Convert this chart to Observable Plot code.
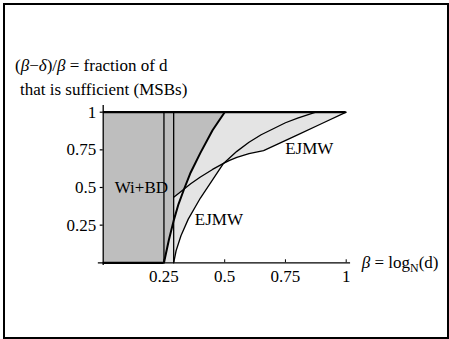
<!DOCTYPE html>
<html>
<head>
<meta charset="utf-8">
<script src="https://cdn.jsdelivr.net/npm/d3@7"></script>
<script src="https://cdn.jsdelivr.net/npm/@observablehq/plot@0.6"></script>
<style>
  html, body { margin: 0; padding: 0; background: #fff; }
  #wrap { position: relative; width: 449px; height: 339px; overflow: hidden; }
  #wrap svg { position: absolute; left: 0; top: 0; }
  #wrap svg text { font-family: "Liberation Serif", "Times New Roman", serif; }
  #frame { position: absolute; left: 3px; top: 3px; width: 446px; height: 336px;
           border: 2px solid #000; box-sizing: border-box; pointer-events: none; }
</style>
</head>
<body>
<div id="wrap"><div id="frame"></div></div>
<script>
// ---- data ----
const xTicks = [0.25, 0.5, 0.75, 1];
const xTickLabels = ["0.25", "0.5", "0.75", "1"];
const yTicks = [0.25, 0.5, 0.75, 1];
const yTickLabels = ["0.25", "0.5", "0.75", "1"];

// vertical boundaries
const bounds = [0.25, 0.29];

// thick curve (Wi+BD boundary)
const thickX = [0.25, 0.27, 0.29, 0.31, 0.333, 0.36, 0.40, 0.45, 0.5];
const thickY = [0, 0.15, 0.28, 0.39, 0.49, 0.60, 0.73, 0.88, 1];

// lower EJMW curve
const lowerX = [0.29, 0.30, 0.32, 0.35, 0.40, 0.45, 0.495, 0.55, 0.60, 0.65, 0.70, 0.75, 0.80, 0.875];
const lowerY = [0, 0.08, 0.18, 0.29, 0.43, 0.55, 0.66, 0.74, 0.80, 0.85, 0.89, 0.93, 0.96, 1];

// upper (kinked) EJMW curve
const kinkX = [0.29, 0.31, 0.333, 0.36, 0.40, 0.45, 0.495, 0.52, 0.55, 0.60, 0.66, 0.72, 0.80, 0.90, 1];
const kinkY = [0.435, 0.46, 0.49, 0.525, 0.57, 0.62, 0.66, 0.68, 0.70, 0.725, 0.745, 0.79, 0.85, 0.925, 1];

// region labels
const labelText = ["Wi+BD", "EJMW", "EJMW"];
const labelX = [0.157, 0.476, 0.848];
const labelY = [0.5, 0.29, 0.757];

// ---- tables built from the arrays ----
const pts = (xs, ys) => xs.map((x, i) => ({x, y: ys[i]}));
const thick = pts(thickX, thickY);
const lower = pts(lowerX, lowerY);
const kink = pts(kinkX, kinkY);
const iCross = lowerX.indexOf(0.495);
const kCross = kinkX.indexOf(0.495);
const kMeet = kinkX.indexOf(0.333);
const tMeet = thickX.indexOf(0.333);
const tStart = thickX.indexOf(0.29);

const darkPoly = [{x: 0, y: 0}, ...thick, {x: 0, y: 1}];
const lightPoly = [{x: bounds[0], y: 0}, ...lower.slice(0, iCross + 1), ...kink.slice(kCross), ...thick.slice().reverse()];
const triPoly = [...kink.slice(0, kMeet + 1), ...thick.slice(tStart, tMeet + 1).reverse()];
const labels = labelText.map((t, i) => ({t, x: labelX[i], y: labelY[i]}));

const dark = "#bebebe", light = "#e4e4e4";
const lw = 1.3;
const font = "Liberation Serif, Times New Roman, serif";

const plot = Plot.plot({
  width: 449, height: 339,
  marginLeft: 102.7, marginRight: 103.3, marginTop: 111.7, marginBottom: 76.7,
  x: {domain: [0, 1]},
  y: {domain: [0, 1]},
  style: {fontFamily: font, fontSize: "17px", background: "transparent", color: "#000", overflow: "visible"},
  marks: [
    Plot.line(darkPoly, {x: "x", y: "y", fill: dark, stroke: "none"}),
    Plot.line(lightPoly, {x: "x", y: "y", fill: light, stroke: "none"}),
    Plot.line(triPoly, {x: "x", y: "y", fill: light, stroke: "none"}),
    Plot.text(labels, {x: "x", y: "y", text: "t", fill: "#000", fontSize: 17, fontFamily: font}),
    Plot.ruleX(bounds, {y1: 0, y2: 1, stroke: "#000", strokeWidth: lw}),
    Plot.line(lower, {x: "x", y: "y", stroke: "#000", strokeWidth: lw}),
    Plot.line(kink, {x: "x", y: "y", stroke: "#000", strokeWidth: lw}),
    Plot.line(thick, {x: "x", y: "y", stroke: "#000", strokeWidth: 2}),
    Plot.ruleY([1], {x1: 0, x2: 1, stroke: "#000", strokeWidth: 2.2}),
    Plot.ruleY([0], {x1: 0, x2: bounds[0], stroke: "#000", strokeWidth: 2.2}),
    Plot.ruleY([0], {x1: -0.02, x2: 1.018, stroke: "#000", strokeWidth: lw}),
    Plot.ruleX([0], {y1: -0.018, y2: 1.045, stroke: "#000", strokeWidth: lw}),
    Plot.ruleX(xTicks, {y1: 0, y2: 0.02, stroke: "#000", strokeWidth: 1}),
    Plot.axisX({ticks: xTicks, tickFormat: d => xTickLabels[xTicks.indexOf(d)],
                tickSize: 0, tickPadding: 7, label: null, fontSize: 17, fontFamily: font}),
    Plot.axisY({ticks: yTicks, tickFormat: d => yTickLabels[yTicks.indexOf(d)],
                tickSize: 3, tickPadding: 4, label: null, fontSize: 17, fontFamily: font, strokeWidth: 1.2})
  ]
});

document.getElementById("wrap").insertBefore(plot, document.getElementById("frame"));

const svg = d3.select(plot);
const xs = plot.scale("x"), ys = plot.scale("y");

function addText(x, y) {
  return svg.append("text").attr("x", x).attr("y", y)
    .attr("font-family", font).attr("font-size", 17).attr("fill", "#000")
    .attr("text-anchor", "start");
}

// y-axis label (two lines)
const t1 = addText(15, 71);
t1.append("tspan").text("(");
t1.append("tspan").attr("font-style", "italic").text("β");
t1.append("tspan").text("−");
t1.append("tspan").attr("font-style", "italic").text("δ");
t1.append("tspan").text(")/");
t1.append("tspan").attr("font-style", "italic").text("β");
t1.append("tspan").text(" = fraction of d");

addText(20, 95).text("that is sufficient (MSBs)");

// x-axis label
const t2 = addText(xs.apply(1) + 16, ys.apply(0) + 6);
t2.append("tspan").attr("font-style", "italic").text("β");
t2.append("tspan").text(" = log");
t2.append("tspan").attr("font-size", 12).attr("dy", 4).text("N");
t2.append("tspan").attr("dy", -4).text("(d)");
</script>
</body>
</html>
